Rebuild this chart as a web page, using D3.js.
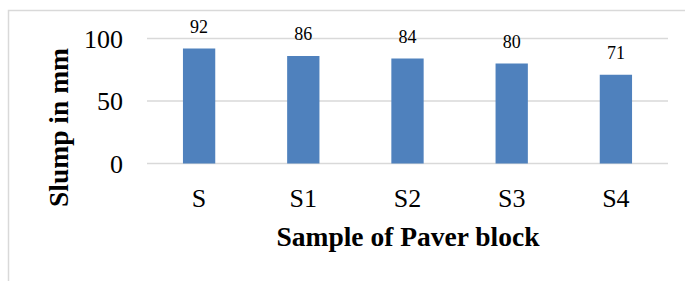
<!DOCTYPE html>
<html>
<head>
<meta charset="utf-8">
<script src="https://cdn.jsdelivr.net/npm/d3@7"></script>
<style>
  body { margin: 0; background: #fff; }
  text { font-family: "Liberation Serif", "Times New Roman", serif; fill: #000; }
</style>
</head>
<body>
<div id="chart"></div>
<script>
// chart data
var categories = ["S", "S1", "S2", "S3", "S4"];
var slump = [92, 86, 84, 80, 71];
var yTicks = [0, 50, 100];

var width = 685,
    height = 281;

var svg = d3.select("#chart").append("svg")
    .attr("width", width)
    .attr("height", height);

// outer chart frame (cropped on right and bottom)
svg.append("rect")
    .attr("x", 8.5)
    .attr("y", 10.5)
    .attr("width", 700)
    .attr("height", 300)
    .attr("fill", "none")
    .attr("stroke", "#d9d9d9")
    .attr("stroke-width", 1.5);

var margin = {left: 147, right: 17, top: 38, bottom: 118};

var x = d3.scaleBand()
    .domain(categories)
    .range([margin.left, width - margin.right])
    .padding(0);

var y = d3.scaleLinear()
    .domain([0, 100])
    .range([163.5, 38.5]);

var barW = x.bandwidth() * 0.31;

// gridlines
svg.append("g")
    .selectAll("line")
    .data(yTicks)
    .enter().append("line")
    .attr("x1", margin.left)
    .attr("x2", width - margin.right)
    .attr("y1", function(d) { return y(d); })
    .attr("y2", function(d) { return y(d); })
    .attr("stroke", "#d9d9d9")
    .attr("stroke-width", 1.5);

// y tick labels
svg.append("g")
    .selectAll("text")
    .data(yTicks)
    .enter().append("text")
    .attr("x", 123)
    .attr("y", function(d) { return y(d); })
    .attr("dy", "0.35em")
    .attr("text-anchor", "end")
    .style("font-size", "26px")
    .text(function(d) { return d; });

// bars
svg.append("g")
    .selectAll("rect")
    .data(slump)
    .enter().append("rect")
    .attr("x", function(d, i) { return x(categories[i]) + x.bandwidth() / 2 - barW / 2; })
    .attr("y", function(d) { return y(d); })
    .attr("width", barW)
    .attr("height", function(d) { return y(0) - y(d); })
    .attr("fill", "#4f81bd");

// data labels
svg.append("g")
    .selectAll("text")
    .data(slump)
    .enter().append("text")
    .attr("x", function(d, i) { return x(categories[i]) + x.bandwidth() / 2; })
    .attr("y", function(d) { return y(d) - 16; })
    .attr("text-anchor", "middle")
    .style("font-size", "18px")
    .text(function(d) { return d; });

// category labels
svg.append("g")
    .selectAll("text")
    .data(categories)
    .enter().append("text")
    .attr("x", function(d) { return x(d) + x.bandwidth() / 2; })
    .attr("y", 207)
    .attr("text-anchor", "middle")
    .style("font-size", "26px")
    .text(function(d) { return d; });

// axis titles
svg.append("text")
    .attr("x", 408)
    .attr("y", 246)
    .attr("text-anchor", "middle")
    .style("font-size", "27.5px")
    .style("font-weight", "bold")
    .text("Sample of Paver block");

svg.append("text")
    .attr("transform", "translate(68,127.5) rotate(-90)")
    .attr("text-anchor", "middle")
    .style("font-size", "27.5px")
    .style("font-weight", "bold")
    .text("Slump in mm");
</script>
</body>
</html>
